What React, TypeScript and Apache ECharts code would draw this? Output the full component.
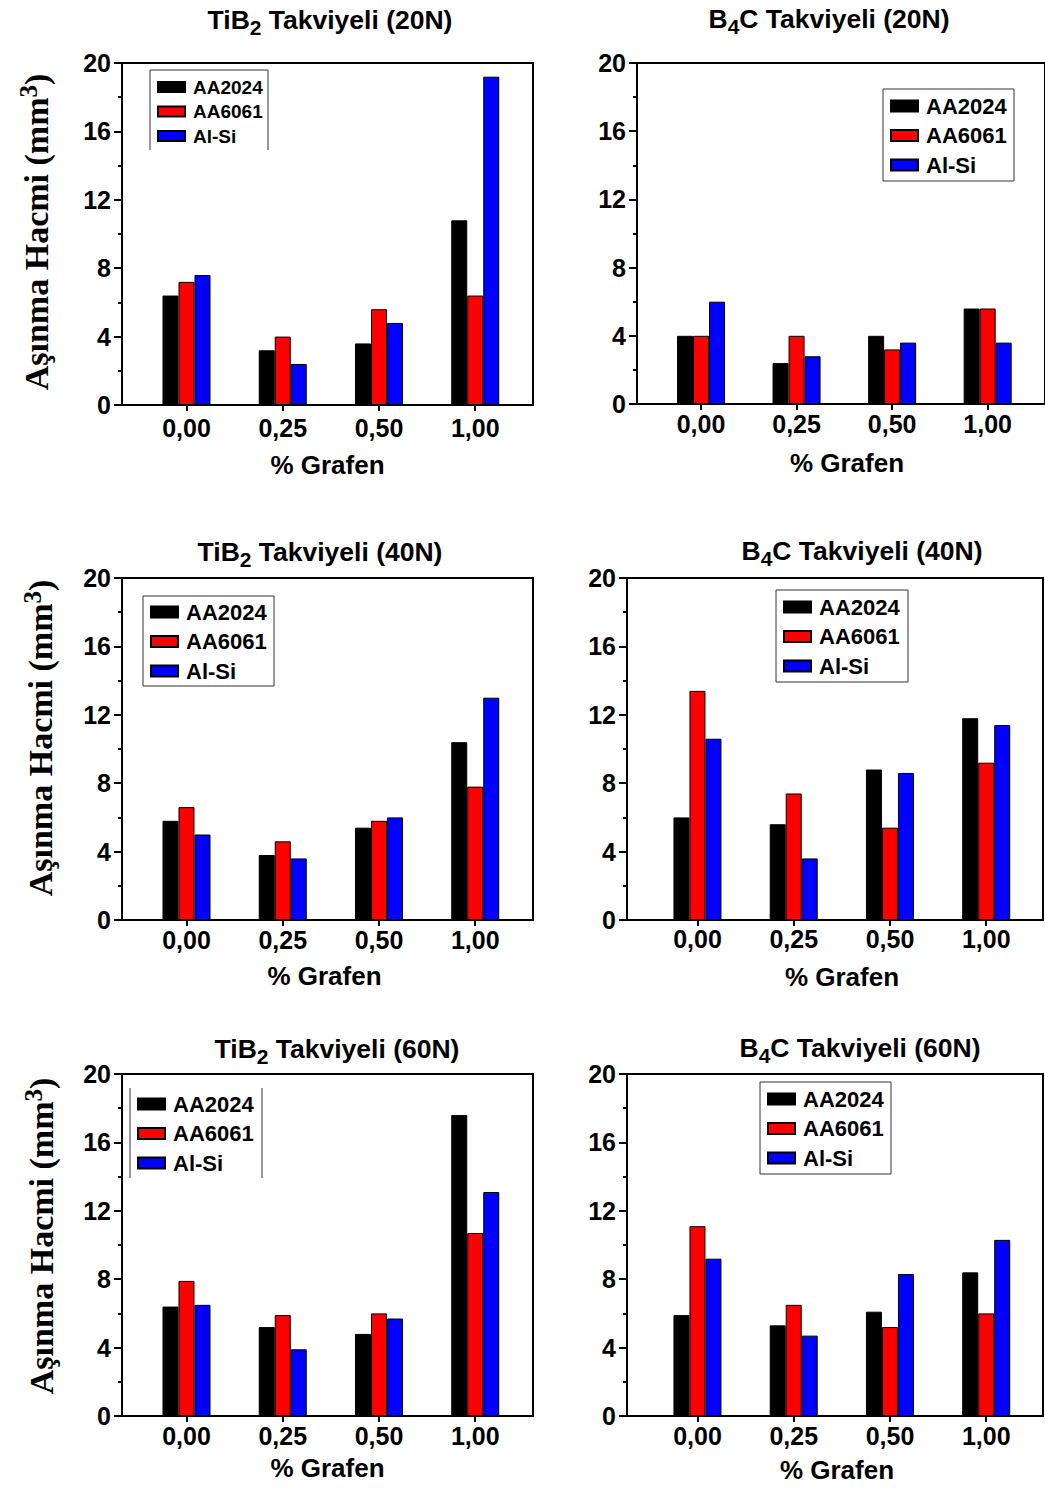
import React, { useEffect, useRef } from "react";
import * as echarts from "echarts";

// ---------- data ----------
const categories = ["0,00", "0,25", "0,50", "1,00"];
const seriesNames = ["AA2024", "AA6061", "Al-Si"];
const seriesColors = ["#000000", "#ff0000", "#0000ff"];
const xAxisTitle = "% Grafen";
const yAxisTitleParts = ["Aşınma Hacmi (mm", "3", ")"];
const yMin = 0;
const yMax = 20;
const yStep = 4;

const panelTitles = [
  ["TiB", "2", " Takviyeli (20N)"],
  ["B", "4", "C Takviyeli (20N)"],
  ["TiB", "2", " Takviyeli (40N)"],
  ["B", "4", "C Takviyeli (40N)"],
  ["TiB", "2", " Takviyeli (60N)"],
  ["B", "4", "C Takviyeli (60N)"],
];

const tib20_AA2024 = [6.4, 3.2, 3.6, 10.8];
const tib20_AA6061 = [7.2, 4.0, 5.6, 6.4];
const tib20_AlSi = [7.6, 2.4, 4.8, 19.2];

const b4c20_AA2024 = [4.0, 2.4, 4.0, 5.6];
const b4c20_AA6061 = [4.0, 4.0, 3.2, 5.6];
const b4c20_AlSi = [6.0, 2.8, 3.6, 3.6];

const tib40_AA2024 = [5.8, 3.8, 5.4, 10.4];
const tib40_AA6061 = [6.6, 4.6, 5.8, 7.8];
const tib40_AlSi = [5.0, 3.6, 6.0, 13.0];

const b4c40_AA2024 = [6.0, 5.6, 8.8, 11.8];
const b4c40_AA6061 = [13.4, 7.4, 5.4, 9.2];
const b4c40_AlSi = [10.6, 3.6, 8.6, 11.4];

const tib60_AA2024 = [6.4, 5.2, 4.8, 17.6];
const tib60_AA6061 = [7.9, 5.9, 6.0, 10.7];
const tib60_AlSi = [6.5, 3.9, 5.7, 13.1];

const b4c60_AA2024 = [5.9, 5.3, 6.1, 8.4];
const b4c60_AA6061 = [11.1, 6.5, 5.2, 6.0];
const b4c60_AlSi = [9.2, 4.7, 8.3, 10.3];

const panelData = [
  [tib20_AA2024, tib20_AA6061, tib20_AlSi],
  [b4c20_AA2024, b4c20_AA6061, b4c20_AlSi],
  [tib40_AA2024, tib40_AA6061, tib40_AlSi],
  [b4c40_AA2024, b4c40_AA6061, b4c40_AlSi],
  [tib60_AA2024, tib60_AA6061, tib60_AlSi],
  [b4c60_AA2024, b4c60_AA6061, b4c60_AlSi],
];

// ---------- layout ----------
const SANS = "'Liberation Sans', Arial, Helvetica, sans-serif";
const SERIF = "'Liberation Serif', 'Times New Roman', serif";

const layout = [
  { left: 122, top: 63, width: 411, height: 342, xMin: 0.33, xMax: 4.6, labelMargin: 10, nameGap: 47, nameShift: 0,
    title: [330, 20], yName: [36, 232],
    lg: { x: 157, c1: 87, gap: 24.5, font: 19, mh: 10 }, box: { x: 150, y: 70, w: 118, h: 80, sides: "tlr" } },
  { left: 637, top: 63, width: 412, height: 341, xMin: 0.33, xMax: 4.6, labelMargin: 7, nameGap: 46, nameShift: 6,
    title: [829, 19], yName: null,
    lg: { x: 890, c1: 106, gap: 29.5, font: 22, mh: 11 }, box: { x: 883, y: 89, w: 131, h: 92, sides: "tlrb" } },
  { left: 122, top: 578, width: 411, height: 342, xMin: 0.33, xMax: 4.6, labelMargin: 7, nameGap: 43, nameShift: -3,
    title: [320, 552], yName: [40, 738],
    lg: { x: 150, c1: 612, gap: 29.5, font: 22, mh: 11 }, box: { x: 143, y: 596, w: 131, h: 90, sides: "tlrb" } },
  { left: 627, top: 578, width: 416, height: 342, xMin: 0.268, xMax: 4.59, labelMargin: 6, nameGap: 44, nameShift: 7,
    title: [862, 551], yName: null,
    lg: { x: 783, c1: 607, gap: 29.5, font: 22, mh: 11 }, box: { x: 776, y: 590, w: 132, h: 92, sides: "tlrb" } },
  { left: 122, top: 1074, width: 411, height: 342, xMin: 0.33, xMax: 4.6, labelMargin: 7, nameGap: 39, nameShift: 0,
    title: [337, 1049], yName: [41, 1236],
    lg: { x: 137, c1: 1104, gap: 29.5, font: 22, mh: 11 }, box: { x: 130, y: 1088, w: 132, h: 90, sides: "lr" } },
  { left: 627, top: 1074, width: 416, height: 342, xMin: 0.268, xMax: 4.59, labelMargin: 7, nameGap: 41, nameShift: 2,
    title: [860, 1048], yName: null,
    lg: { x: 767, c1: 1099, gap: 29.5, font: 22, mh: 11 }, box: { x: 760, y: 1082, w: 131, h: 92, sides: "tlrb" } },
];

const catPositions = categories.map((_, i) => i + 1);

function catLabel(v: number): string {
  const r = Math.round(v);
  if (Math.abs(v - r) > 1e-6) return "";
  return categories[r - 1] ?? "";
}

function buildOption() {
  const grid = layout.map((p) => ({
    left: p.left,
    top: p.top,
    width: p.width,
    height: p.height,
    show: true,
    borderColor: "#000",
    borderWidth: 2,
    backgroundColor: "transparent",
  }));

  const xAxis = layout.map((p, i) => ({
    type: "value",
    gridIndex: i,
    min: p.xMin,
    max: p.xMax,
    splitLine: { show: false },
    axisLine: { show: true, onZero: false, lineStyle: { color: "#000", width: 2 } },
    axisTick: { show: true, customValues: catPositions, length: 6, lineStyle: { color: "#000", width: 2 } },
    axisLabel: {
      customValues: catPositions,
      formatter: (v: number) => catLabel(v),
      color: "#000",
      fontSize: 25,
      fontWeight: "bold",
      fontFamily: SANS,
      margin: p.labelMargin,
    },
    name: xAxisTitle,
    nameLocation: "middle",
    nameGap: p.nameGap,
    nameTextStyle: {
      color: "#000",
      fontSize: 26,
      fontWeight: "bold",
      fontFamily: SANS,
      padding: p.nameShift >= 0 ? [0, 0, 0, 2 * p.nameShift] : [0, -2 * p.nameShift, 0, 0],
    },
  }));

  const yAxis = layout.map((p, i) => ({
    type: "value",
    gridIndex: i,
    min: yMin,
    max: yMax,
    interval: yStep,
    splitLine: { show: false },
    minorSplitLine: { show: false },
    axisLine: { show: true, lineStyle: { color: "#000", width: 2 } },
    axisTick: { show: true, length: 8, lineStyle: { color: "#000", width: 2 } },
    minorTick: { show: true, splitNumber: 2, length: 4, lineStyle: { color: "#000", width: 2 } },
    axisLabel: {
      color: "#000",
      fontSize: 25,
      fontWeight: "bold",
      fontFamily: SANS,
      margin: 11,
    },
  }));

  const legend = layout.map((p) => {
    const lineH = p.lg.font;
    return {
      orient: "vertical",
      left: p.lg.x,
      top: p.lg.c1 - lineH / 2,
      padding: 0,
      itemWidth: 27,
      itemHeight: p.lg.mh,
      itemGap: p.lg.gap - lineH,
      icon: "rect",
      selectedMode: false,
      data: seriesNames,
      textStyle: {
        color: "#000",
        fontSize: p.lg.font,
        fontWeight: "bold",
        fontFamily: SANS,
        lineHeight: lineH,
        padding: [0, 0, 0, 3],
      },
    };
  });

  const series: any[] = [];
  panelData.forEach((group, pi) => {
    group.forEach((values, si) => {
      series.push({
        type: "bar",
        name: seriesNames[si],
        xAxisIndex: pi,
        yAxisIndex: pi,
        barWidth: 16,
        barGap: "0%",
        data: values.map((v, k) => [catPositions[k], v]),
        itemStyle: { color: seriesColors[si], borderColor: "#000", borderWidth: 1 },
      });
    });
  });

  const elements: any[] = [];
  layout.forEach((p, i) => {
    const t = panelTitles[i];
    elements.push({
      type: "text",
      x: p.title[0],
      y: p.title[1],
      silent: true,
      style: {
        text: `{n|${t[0]}}{s|${t[1]}}{n|${t[2]}}`,
        align: "center",
        verticalAlign: "middle",
        rich: {
          n: { fontSize: 26.5, fontWeight: "bold", fontFamily: SANS, fill: "#000", lineHeight: 36, verticalAlign: "middle" },
          s: { fontSize: 21, fontWeight: "bold", fontFamily: SANS, fill: "#000", lineHeight: 21, verticalAlign: "bottom" },
        },
      },
    });
    if (p.yName) {
      elements.push({
        type: "text",
        x: p.yName[0],
        y: p.yName[1],
        rotation: Math.PI / 2,
        silent: true,
        style: {
          text: `{n|${yAxisTitleParts[0]}}{u|${yAxisTitleParts[1]}}{n|${yAxisTitleParts[2]}}`,
          align: "center",
          verticalAlign: "middle",
          rich: {
            n: { fontSize: 34, fontWeight: "bold", fontFamily: SERIF, fill: "#000", lineHeight: 40, verticalAlign: "middle" },
            u: { fontSize: 25, fontWeight: "bold", fontFamily: SERIF, fill: "#000", lineHeight: 25, verticalAlign: "top" },
          },
        },
      });
    }
    const b = p.box;
    const st = { stroke: "#333", lineWidth: 1 };
    if (b.sides.includes("t"))
      elements.push({ type: "line", silent: true, shape: { x1: b.x, y1: b.y, x2: b.x + b.w, y2: b.y }, style: st });
    if (b.sides.includes("b"))
      elements.push({ type: "line", silent: true, shape: { x1: b.x, y1: b.y + b.h, x2: b.x + b.w, y2: b.y + b.h }, style: st });
    if (b.sides.includes("l"))
      elements.push({ type: "line", silent: true, shape: { x1: b.x, y1: b.y, x2: b.x, y2: b.y + b.h }, style: st });
    if (b.sides.includes("r"))
      elements.push({ type: "line", silent: true, shape: { x1: b.x + b.w, y1: b.y, x2: b.x + b.w, y2: b.y + b.h }, style: st });
  });

  return {
    animation: false,
    backgroundColor: "#ffffff",
    grid,
    xAxis,
    yAxis,
    legend,
    series,
    graphic: { elements },
  };
}

export default function App() {
  const ref = useRef<HTMLDivElement>(null);
  useEffect(() => {
    if (!ref.current) return;
    const chart = echarts.init(ref.current, null, { renderer: "svg" });
    chart.setOption(buildOption() as any);
    return () => chart.dispose();
  }, []);
  return (
    <div
      ref={ref}
      style={{ position: "absolute", left: 0, top: 0, width: 1045, height: 1488, background: "#fff" }}
    />
  );
}
